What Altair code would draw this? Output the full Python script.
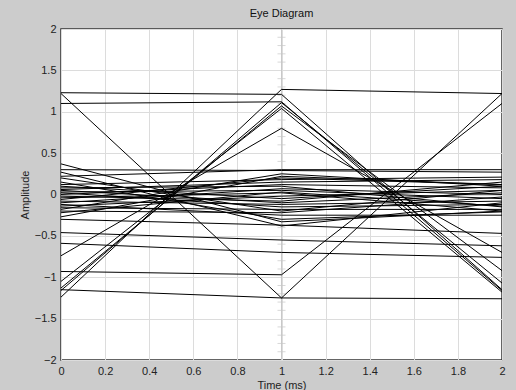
import altair as alt
import pandas as pd

# sample instants of each trace (ms)
times = [0, 1, 2]

# amplitude of each trace at t = 0, 1, 2 ms
v_t0 = [1.23, 1.10, 1.22, -1.24, -1.16, -1.13, -1.05, -0.74, -1.15, -0.93,
        -0.46, -0.59, -0.30,
        0.37, 0.30, 0.27, 0.22, 0.20, 0.12, 0.10, 0.08, 0.06, 0.05, 0.03,
        0.02, 0.00, -0.02, -0.04, -0.06, -0.08, -0.10, -0.12, -0.14, -0.16,
        -0.18, -0.20, -0.27, -0.22, 0.15]
v_t1 = [1.21, 1.12, -1.25, 1.27, 1.11, 1.07, 1.04, 0.80, -1.25, -0.97,
        -0.55, -0.70, -0.37,
        -0.33, 0.29, -0.38, 0.30, -0.20, 0.18, -0.05, 0.10, 0.15, -0.10, 0.05,
        -0.15, 0.12, -0.08, 0.02, 0.20, -0.12, 0.07, -0.25, -0.02, -0.18,
        0.25, -0.22, 0.22, 0.03, -0.30]
v_t2 = [-1.15, -1.16, -1.26, 1.22, -1.07, -0.92, -1.18, -0.70, 1.22, 1.10,
        -0.62, -0.76, -0.47,
        -0.20, 0.27, -0.10, 0.30, 0.05, 0.21, 0.10, -0.15, 0.18, 0.02, -0.05,
        -0.12, 0.08, 0.15, -0.20, 0.12, -0.08, 0.00, -0.25, 0.05, -0.18,
        0.10, -0.03, 0.12, -0.14, -0.21]

x_ticks = [0, 0.2, 0.4, 0.6, 0.8, 1, 1.2, 1.4, 1.6, 1.8, 2]
y_ticks = [-2, -1.5, -1, -0.5, 0, 0.5, 1, 1.5, 2]
center_x = [1]
center_minor = [-1.9, -1.8, -1.7, -1.6, -1.4, -1.3, -1.2, -1.1, -0.9, -0.8,
                -0.7, -0.6, -0.4, -0.3, -0.2, -0.1, 0.1, 0.2, 0.3, 0.4,
                0.6, 0.7, 0.8, 0.9, 1.1, 1.2, 1.3, 1.4, 1.6, 1.7, 1.8, 1.9]

rows = []
for i, vals in enumerate(zip(v_t0, v_t1, v_t2)):
    for t, v in zip(times, vals):
        rows.append({"trace": i, "t": t, "v": v})
df = pd.DataFrame(rows)

ticks_df = pd.DataFrame({"t": center_x * len(center_minor), "v": center_minor})

FONT = "Liberation Sans"

x_enc = alt.X("t:Q", scale=alt.Scale(domain=[0, 2], nice=False, zero=False),
              axis=alt.Axis(values=x_ticks, title="Time (ms)", grid=True,
                            gridColor="#dcdcdc", domain=False, ticks=False,
                            labelPadding=5, labelFlush=False, titlePadding=3,
                            format="~g", labelFontSize=11, titleFontSize=11,
                            labelFont=FONT, titleFont=FONT, labelColor="#222",
                            titleColor="#222", titleFontWeight="normal"))
y_enc = alt.Y("v:Q", scale=alt.Scale(domain=[-2, 2], nice=False, zero=False),
              axis=alt.Axis(values=y_ticks, title="Amplitude", grid=True,
                            gridColor="#dcdcdc", domain=False, ticks=False,
                            labelPadding=5, labelFlush=False, titlePadding=4,
                            format="~g", labelFontSize=11, titleFontSize=11,
                            labelFont=FONT, titleFont=FONT, labelColor="#222",
                            titleColor="#222", titleFontWeight="normal"))

minor = alt.Chart(ticks_df).mark_tick(orient="horizontal", size=8, thickness=1,
                                      color="#c8c8c8").encode(
    x=alt.X("t:Q"), y=alt.Y("v:Q"))

center_line = alt.Chart(pd.DataFrame({"t": center_x})).mark_rule(
    color="#c8c8c8", strokeWidth=1).encode(x=alt.X("t:Q"))

lines = alt.Chart(df).mark_line(color="black", strokeWidth=1, clip=True).encode(
    x=x_enc, y=y_enc, detail="trace:N", order="t:Q")

chart = alt.layer(center_line, minor, lines).properties(
    width=441, height=331,
    title=alt.TitleParams("Eye Diagram", fontSize=11, font=FONT,
                          fontWeight="normal", color="#111", offset=4),
    autosize=alt.AutoSizeParams(type="none"),
    padding={"left": 61, "top": 29, "right": 14, "bottom": 30},
    background="#cccccc",
).configure_view(fill="white", stroke="#333333", strokeWidth=1.5)

chart.save("out.html", embed_options={"renderer": "svg", "actions": False})
